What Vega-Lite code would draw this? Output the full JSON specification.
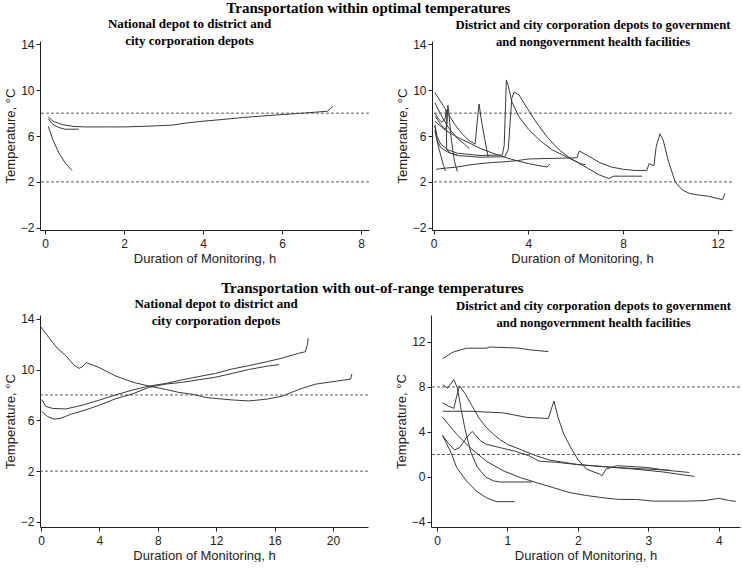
{
  "$schema": "https://vega.github.io/schema/vega-lite/v6.json",
  "padding": {"left": 4, "top": 1, "right": 0, "bottom": 0},
  "background": "white",
  "config": {
    "view": {"stroke": null},
    "axis": {"grid": false, "domainColor": "#222", "tickColor": "#222", "labelColor": "#222", "titleColor": "#222", "labelFont": "Liberation Sans", "titleFont": "Liberation Sans", "labelFontSize": 12, "titleFontSize": 13, "titleFontWeight": "normal", "tickSize": 4, "labelPadding": 2, "titlePadding": 3},
    "axisX": {"labelPadding": 4, "titlePadding": 3},
    "title": {"font": "Liberation Serif", "fontWeight": "bold", "fontSize": 13, "color": "#000", "anchor": "middle", "frame": "group", "lineHeight": 17}
  },
  "datasets": {
    "p1": [
      {"id": "s1", "h": 0.08, "t": 7.65}, {"id": "s1", "h": 0.2, "t": 7.3}, {"id": "s1", "h": 0.43, "t": 7.0}, {"id": "s1", "h": 0.7, "t": 6.85}, {"id": "s1", "h": 1.0, "t": 6.8}, {"id": "s1", "h": 1.5, "t": 6.8}, {"id": "s1", "h": 2.0, "t": 6.8}, {"id": "s1", "h": 2.5, "t": 6.85}, {"id": "s1", "h": 3.2, "t": 6.95}, {"id": "s1", "h": 3.6, "t": 7.15}, {"id": "s1", "h": 4.0, "t": 7.3}, {"id": "s1", "h": 4.5, "t": 7.45}, {"id": "s1", "h": 5.0, "t": 7.62}, {"id": "s1", "h": 5.5, "t": 7.75}, {"id": "s1", "h": 6.0, "t": 7.88}, {"id": "s1", "h": 6.6, "t": 8.02}, {"id": "s1", "h": 7.15, "t": 8.17}, {"id": "s1", "h": 7.28, "t": 8.6},
      {"id": "s2", "h": 0.08, "t": 7.5}, {"id": "s2", "h": 0.2, "t": 7.0}, {"id": "s2", "h": 0.35, "t": 6.75}, {"id": "s2", "h": 0.5, "t": 6.6}, {"id": "s2", "h": 0.85, "t": 6.6},
      {"id": "s3", "h": 0.08, "t": 6.85}, {"id": "s3", "h": 0.2, "t": 5.65}, {"id": "s3", "h": 0.35, "t": 4.5}, {"id": "s3", "h": 0.52, "t": 3.6}, {"id": "s3", "h": 0.68, "t": 3.0}
    ],
    "p2": [
      {"id": "q1", "h": 0.1, "t": 3.1}, {"id": "q1", "h": 0.5, "t": 3.2}, {"id": "q1", "h": 1.0, "t": 3.3}, {"id": "q1", "h": 1.56, "t": 3.5}, {"id": "q1", "h": 2.0, "t": 3.6}, {"id": "q1", "h": 2.5, "t": 3.7}, {"id": "q1", "h": 2.96, "t": 3.75}, {"id": "q1", "h": 3.5, "t": 3.85}, {"id": "q1", "h": 4.0, "t": 4.0}, {"id": "q1", "h": 5.0, "t": 4.05}, {"id": "q1", "h": 6.05, "t": 4.1}, {"id": "q1", "h": 6.15, "t": 4.7}, {"id": "q1", "h": 6.5, "t": 4.3}, {"id": "q1", "h": 7.0, "t": 3.7}, {"id": "q1", "h": 7.5, "t": 3.3}, {"id": "q1", "h": 8.0, "t": 3.1}, {"id": "q1", "h": 8.5, "t": 3.0}, {"id": "q1", "h": 9.0, "t": 3.0}, {"id": "q1", "h": 9.1, "t": 3.6}, {"id": "q1", "h": 9.3, "t": 3.4}, {"id": "q1", "h": 9.4, "t": 5.1}, {"id": "q1", "h": 9.56, "t": 6.2}, {"id": "q1", "h": 9.7, "t": 5.6}, {"id": "q1", "h": 9.9, "t": 3.9}, {"id": "q1", "h": 10.2, "t": 2.0}, {"id": "q1", "h": 10.5, "t": 1.3}, {"id": "q1", "h": 10.8, "t": 1.0}, {"id": "q1", "h": 11.2, "t": 0.85}, {"id": "q1", "h": 11.6, "t": 0.75}, {"id": "q1", "h": 12.0, "t": 0.55}, {"id": "q1", "h": 12.2, "t": 0.45}, {"id": "q1", "h": 12.3, "t": 1.0},
      {"id": "q2", "h": 0.05, "t": 7.0}, {"id": "q2", "h": 0.15, "t": 5.9}, {"id": "q2", "h": 0.3, "t": 5.3}, {"id": "q2", "h": 0.6, "t": 4.8}, {"id": "q2", "h": 1.0, "t": 4.5}, {"id": "q2", "h": 2.0, "t": 4.3}, {"id": "q2", "h": 2.9, "t": 4.35}, {"id": "q2", "h": 2.98, "t": 5.2}, {"id": "q2", "h": 3.07, "t": 10.9}, {"id": "q2", "h": 3.15, "t": 10.4}, {"id": "q2", "h": 3.3, "t": 9.0}, {"id": "q2", "h": 3.6, "t": 7.7}, {"id": "q2", "h": 4.0, "t": 6.6}, {"id": "q2", "h": 4.5, "t": 5.6}, {"id": "q2", "h": 5.0, "t": 4.8}, {"id": "q2", "h": 5.5, "t": 4.3}, {"id": "q2", "h": 6.0, "t": 3.8}, {"id": "q2", "h": 6.5, "t": 3.2}, {"id": "q2", "h": 7.0, "t": 2.6}, {"id": "q2", "h": 7.4, "t": 2.3}, {"id": "q2", "h": 7.6, "t": 2.5}, {"id": "q2", "h": 8.8, "t": 2.5},
      {"id": "q3", "h": 0.05, "t": 6.5}, {"id": "q3", "h": 0.15, "t": 5.6}, {"id": "q3", "h": 0.3, "t": 5.0}, {"id": "q3", "h": 0.6, "t": 4.6}, {"id": "q3", "h": 1.0, "t": 4.3}, {"id": "q3", "h": 2.0, "t": 4.15}, {"id": "q3", "h": 3.0, "t": 4.2}, {"id": "q3", "h": 3.15, "t": 4.8}, {"id": "q3", "h": 3.3, "t": 9.3}, {"id": "q3", "h": 3.4, "t": 9.85}, {"id": "q3", "h": 3.6, "t": 9.6}, {"id": "q3", "h": 3.9, "t": 8.6}, {"id": "q3", "h": 4.3, "t": 7.3}, {"id": "q3", "h": 4.8, "t": 5.9}, {"id": "q3", "h": 5.3, "t": 4.8}, {"id": "q3", "h": 5.8, "t": 4.0}, {"id": "q3", "h": 6.2, "t": 3.6}, {"id": "q3", "h": 6.4, "t": 3.5},
      {"id": "q4", "h": 0.05, "t": 9.8}, {"id": "q4", "h": 0.3, "t": 9.0}, {"id": "q4", "h": 0.6, "t": 8.0}, {"id": "q4", "h": 0.9, "t": 7.0}, {"id": "q4", "h": 1.2, "t": 6.2}, {"id": "q4", "h": 1.5, "t": 5.6}, {"id": "q4", "h": 1.75, "t": 5.3}, {"id": "q4", "h": 1.85, "t": 7.5}, {"id": "q4", "h": 1.92, "t": 8.8}, {"id": "q4", "h": 2.0, "t": 7.6}, {"id": "q4", "h": 2.15, "t": 5.8}, {"id": "q4", "h": 2.3, "t": 4.2},
      {"id": "q5", "h": 0.05, "t": 8.9}, {"id": "q5", "h": 0.3, "t": 7.9}, {"id": "q5", "h": 0.6, "t": 6.8}, {"id": "q5", "h": 1.0, "t": 5.8}, {"id": "q5", "h": 1.3, "t": 5.3}, {"id": "q5", "h": 1.5, "t": 4.9},
      {"id": "q6", "h": 0.05, "t": 7.3}, {"id": "q6", "h": 0.5, "t": 6.5}, {"id": "q6", "h": 1.0, "t": 5.9}, {"id": "q6", "h": 1.5, "t": 5.4}, {"id": "q6", "h": 2.0, "t": 4.9}, {"id": "q6", "h": 2.5, "t": 4.5}, {"id": "q6", "h": 3.0, "t": 4.15}, {"id": "q6", "h": 3.5, "t": 3.85}, {"id": "q6", "h": 4.0, "t": 3.6}, {"id": "q6", "h": 4.5, "t": 3.4}, {"id": "q6", "h": 4.8, "t": 3.3}, {"id": "q6", "h": 4.9, "t": 3.55},
      {"id": "q7", "h": 0.05, "t": 6.9}, {"id": "q7", "h": 0.15, "t": 5.5}, {"id": "q7", "h": 0.3, "t": 4.3}, {"id": "q7", "h": 0.42, "t": 3.4}, {"id": "q7", "h": 0.5, "t": 2.95},
      {"id": "q8", "h": 0.08, "t": 7.7}, {"id": "q8", "h": 0.3, "t": 7.0}, {"id": "q8", "h": 0.5, "t": 6.6}, {"id": "q8", "h": 0.56, "t": 6.9}, {"id": "q8", "h": 0.6, "t": 8.7}, {"id": "q8", "h": 0.64, "t": 8.0}, {"id": "q8", "h": 0.75, "t": 5.6}, {"id": "q8", "h": 0.88, "t": 3.8}, {"id": "q8", "h": 1.0, "t": 2.9},
      {"id": "q9", "h": 0.05, "t": 8.0}, {"id": "q9", "h": 0.2, "t": 7.5}, {"id": "q9", "h": 0.35, "t": 7.2}, {"id": "q9", "h": 0.5, "t": 7.6}, {"id": "q9", "h": 0.53, "t": 8.3}, {"id": "q9", "h": 0.55, "t": 4.8}, {"id": "q9", "h": 0.7, "t": 4.5}, {"id": "q9", "h": 1.0, "t": 4.35}
    ],
    "p3": [
      {"id": "r1", "h": 0.0, "t": 13.35}, {"id": "r1", "h": 0.55, "t": 12.5}, {"id": "r1", "h": 1.1, "t": 11.7}, {"id": "r1", "h": 1.7, "t": 11.1}, {"id": "r1", "h": 2.26, "t": 10.35}, {"id": "r1", "h": 2.6, "t": 10.1}, {"id": "r1", "h": 2.8, "t": 10.2}, {"id": "r1", "h": 3.1, "t": 10.55}, {"id": "r1", "h": 4.0, "t": 10.15}, {"id": "r1", "h": 5.1, "t": 9.5}, {"id": "r1", "h": 6.3, "t": 9.0}, {"id": "r1", "h": 7.4, "t": 8.7}, {"id": "r1", "h": 8.5, "t": 8.45}, {"id": "r1", "h": 9.45, "t": 8.2}, {"id": "r1", "h": 10.4, "t": 8.05}, {"id": "r1", "h": 11.3, "t": 7.8}, {"id": "r1", "h": 12.2, "t": 7.7}, {"id": "r1", "h": 13.2, "t": 7.6}, {"id": "r1", "h": 14.2, "t": 7.53}, {"id": "r1", "h": 15.4, "t": 7.66}, {"id": "r1", "h": 16.5, "t": 7.9}, {"id": "r1", "h": 17.7, "t": 8.45}, {"id": "r1", "h": 18.8, "t": 8.85}, {"id": "r1", "h": 20.0, "t": 9.05}, {"id": "r1", "h": 21.2, "t": 9.25}, {"id": "r1", "h": 21.3, "t": 9.65},
      {"id": "r2", "h": 0.05, "t": 7.64}, {"id": "r2", "h": 0.33, "t": 7.1}, {"id": "r2", "h": 0.8, "t": 6.94}, {"id": "r2", "h": 1.7, "t": 6.9}, {"id": "r2", "h": 2.85, "t": 7.2}, {"id": "r2", "h": 4.0, "t": 7.6}, {"id": "r2", "h": 5.1, "t": 8.0}, {"id": "r2", "h": 6.3, "t": 8.4}, {"id": "r2", "h": 7.4, "t": 8.7}, {"id": "r2", "h": 8.5, "t": 8.9}, {"id": "r2", "h": 9.7, "t": 9.2}, {"id": "r2", "h": 10.8, "t": 9.45}, {"id": "r2", "h": 11.96, "t": 9.7}, {"id": "r2", "h": 13.1, "t": 10.05}, {"id": "r2", "h": 14.2, "t": 10.3}, {"id": "r2", "h": 15.4, "t": 10.6}, {"id": "r2", "h": 16.5, "t": 10.9}, {"id": "r2", "h": 17.7, "t": 11.3}, {"id": "r2", "h": 18.1, "t": 11.4}, {"id": "r2", "h": 18.25, "t": 11.95}, {"id": "r2", "h": 18.3, "t": 12.5},
      {"id": "r3", "h": 0.05, "t": 6.7}, {"id": "r3", "h": 0.45, "t": 6.3}, {"id": "r3", "h": 0.9, "t": 6.1}, {"id": "r3", "h": 1.3, "t": 6.15}, {"id": "r3", "h": 2.1, "t": 6.5}, {"id": "r3", "h": 3.0, "t": 6.8}, {"id": "r3", "h": 4.0, "t": 7.2}, {"id": "r3", "h": 5.1, "t": 7.7}, {"id": "r3", "h": 6.3, "t": 8.1}, {"id": "r3", "h": 7.4, "t": 8.6}, {"id": "r3", "h": 8.5, "t": 8.85}, {"id": "r3", "h": 9.7, "t": 9.0}, {"id": "r3", "h": 10.8, "t": 9.2}, {"id": "r3", "h": 11.96, "t": 9.4}, {"id": "r3", "h": 13.1, "t": 9.7}, {"id": "r3", "h": 14.2, "t": 10.0}, {"id": "r3", "h": 15.4, "t": 10.25}, {"id": "r3", "h": 16.3, "t": 10.4}
    ],
    "p4": [
      {"id": "A", "h": 0.08, "t": 10.52}, {"id": "A", "h": 0.23, "t": 11.1}, {"id": "A", "h": 0.42, "t": 11.45}, {"id": "A", "h": 0.7, "t": 11.45}, {"id": "A", "h": 0.75, "t": 11.55}, {"id": "A", "h": 1.0, "t": 11.5}, {"id": "A", "h": 1.17, "t": 11.45}, {"id": "A", "h": 1.32, "t": 11.3}, {"id": "A", "h": 1.58, "t": 11.15},
      {"id": "B", "h": 0.08, "t": 8.2}, {"id": "B", "h": 0.15, "t": 7.9}, {"id": "B", "h": 0.24, "t": 8.65}, {"id": "B", "h": 0.29, "t": 7.9}, {"id": "B", "h": 0.34, "t": 6.1}, {"id": "B", "h": 0.4, "t": 4.2}, {"id": "B", "h": 0.48, "t": 2.2}, {"id": "B", "h": 0.57, "t": 0.9}, {"id": "B", "h": 0.69, "t": 0.0}, {"id": "B", "h": 0.8, "t": -0.35}, {"id": "B", "h": 0.9, "t": -0.45}, {"id": "B", "h": 1.35, "t": -0.45},
      {"id": "C", "h": 0.08, "t": 5.84}, {"id": "C", "h": 0.47, "t": 5.84}, {"id": "C", "h": 0.94, "t": 5.7}, {"id": "C", "h": 1.27, "t": 5.3}, {"id": "C", "h": 1.58, "t": 5.2}, {"id": "C", "h": 1.66, "t": 6.75}, {"id": "C", "h": 1.72, "t": 5.25}, {"id": "C", "h": 1.8, "t": 3.8}, {"id": "C", "h": 1.9, "t": 2.6}, {"id": "C", "h": 2.0, "t": 1.55}, {"id": "C", "h": 2.12, "t": 0.7}, {"id": "C", "h": 2.31, "t": 0.25}, {"id": "C", "h": 2.34, "t": 0.1}, {"id": "C", "h": 2.4, "t": 0.7}, {"id": "C", "h": 2.55, "t": 1.0}, {"id": "C", "h": 2.7, "t": 0.95}, {"id": "C", "h": 2.97, "t": 0.85}, {"id": "C", "h": 3.25, "t": 0.6}, {"id": "C", "h": 3.58, "t": 0.4},
      {"id": "D", "h": 0.08, "t": 5.3}, {"id": "D", "h": 0.28, "t": 3.8}, {"id": "D", "h": 0.47, "t": 2.6}, {"id": "D", "h": 0.7, "t": 1.4}, {"id": "D", "h": 0.94, "t": 0.55}, {"id": "D", "h": 1.18, "t": -0.05}, {"id": "D", "h": 1.41, "t": -0.5}, {"id": "D", "h": 1.65, "t": -0.95}, {"id": "D", "h": 1.89, "t": -1.4}, {"id": "D", "h": 2.12, "t": -1.65}, {"id": "D", "h": 2.36, "t": -1.85}, {"id": "D", "h": 2.59, "t": -2.0}, {"id": "D", "h": 2.83, "t": -2.0}, {"id": "D", "h": 3.07, "t": -2.15}, {"id": "D", "h": 3.54, "t": -2.15}, {"id": "D", "h": 3.8, "t": -2.1}, {"id": "D", "h": 4.0, "t": -1.9}, {"id": "D", "h": 4.15, "t": -2.1}, {"id": "D", "h": 4.24, "t": -2.17},
      {"id": "E", "h": 0.08, "t": 3.67}, {"id": "E", "h": 0.19, "t": 2.3}, {"id": "E", "h": 0.28, "t": 0.82}, {"id": "E", "h": 0.42, "t": -0.37}, {"id": "E", "h": 0.56, "t": -1.26}, {"id": "E", "h": 0.7, "t": -1.85}, {"id": "E", "h": 0.85, "t": -2.2}, {"id": "E", "h": 1.1, "t": -2.2},
      {"id": "F", "h": 0.08, "t": 6.6}, {"id": "F", "h": 0.16, "t": 6.3}, {"id": "F", "h": 0.24, "t": 6.1}, {"id": "F", "h": 0.28, "t": 7.2}, {"id": "F", "h": 0.32, "t": 8.1}, {"id": "F", "h": 0.4, "t": 7.4}, {"id": "F", "h": 0.5, "t": 6.3}, {"id": "F", "h": 0.6, "t": 5.2}, {"id": "F", "h": 0.7, "t": 4.4}, {"id": "F", "h": 0.8, "t": 3.8}, {"id": "F", "h": 0.9, "t": 3.3}, {"id": "F", "h": 1.0, "t": 2.9}, {"id": "F", "h": 1.2, "t": 2.4}, {"id": "F", "h": 1.4, "t": 1.9}, {"id": "F", "h": 1.6, "t": 1.5}, {"id": "F", "h": 1.8, "t": 1.3}, {"id": "F", "h": 2.0, "t": 1.1}, {"id": "F", "h": 2.4, "t": 0.9}, {"id": "F", "h": 2.8, "t": 0.7}, {"id": "F", "h": 3.2, "t": 0.45}, {"id": "F", "h": 3.65, "t": 0.05},
      {"id": "G", "h": 0.08, "t": 3.7}, {"id": "G", "h": 0.16, "t": 3.0}, {"id": "G", "h": 0.25, "t": 2.4}, {"id": "G", "h": 0.32, "t": 2.6}, {"id": "G", "h": 0.42, "t": 3.5}, {"id": "G", "h": 0.5, "t": 4.05}, {"id": "G", "h": 0.55, "t": 3.7}, {"id": "G", "h": 0.62, "t": 3.2}, {"id": "G", "h": 0.7, "t": 2.9}, {"id": "G", "h": 0.9, "t": 2.6}, {"id": "G", "h": 1.1, "t": 2.3}, {"id": "G", "h": 1.3, "t": 1.9}, {"id": "G", "h": 1.45, "t": 1.4}, {"id": "G", "h": 1.7, "t": 1.3}, {"id": "G", "h": 2.0, "t": 1.1}, {"id": "G", "h": 2.5, "t": 0.85}, {"id": "G", "h": 3.0, "t": 0.7}, {"id": "G", "h": 3.3, "t": 0.6}
    ]
  },
  "spacing": 15,
  "vconcat": [
    {
      "title": {"text": "Transportation within optimal temperatures", "fontSize": 15, "offset": 2, "frame": "bounds"},
      "spacing": 26,
      "hconcat": [
        {
          "width": 329, "height": 189,
          "title": {"text": ["National depot to district and", "city corporation depots"], "dx": -15, "offset": -10},
          "layer": [
            {"data": {"values": [{"t": 8}, {"t": 2}]}, "mark": {"type": "rule", "strokeDash": [3, 2], "strokeWidth": 0.8, "color": "#333"},
             "encoding": {"y": {"field": "t", "type": "quantitative", "scale": {"domain": [-2.2, 14.3], "nice": false, "zero": false}, "axis": {"values": [-2, 2, 6, 10, 14], "title": "Temperature, °C"}}}},
            {"data": {"name": "p1"}, "mark": {"type": "line", "strokeWidth": 1, "color": "#3a3a3a"},
             "encoding": {
               "x": {"field": "h", "type": "quantitative", "scale": {"domain": [-0.13, 8.2], "nice": false, "zero": false}, "axis": {"values": [0, 2, 4, 6, 8], "title": "Duration of Monitoring, h"}},
               "y": {"field": "t", "type": "quantitative", "scale": {"domain": [-2.2, 14.3], "nice": false, "zero": false}, "axis": {"values": [-2, 2, 6, 10, 14], "title": "Temperature, °C"}},
               "detail": {"field": "id"}}}
          ]
        },
        {
          "width": 300, "height": 189,
          "title": {"text": ["District and city corporation depots to government", "and nongovernment health facilities"], "dx": 11, "offset": -10, "fontSize": 12.7},
          "layer": [
            {"data": {"values": [{"t": 8}, {"t": 2}]}, "mark": {"type": "rule", "strokeDash": [3, 2], "strokeWidth": 0.8, "color": "#333"},
             "encoding": {"y": {"field": "t", "type": "quantitative", "scale": {"domain": [-2.2, 14.3], "nice": false, "zero": false}, "axis": {"values": [-2, 2, 6, 10, 14], "title": "Temperature, °C"}}}},
            {"data": {"name": "p2"}, "mark": {"type": "line", "strokeWidth": 1, "color": "#3a3a3a"},
             "encoding": {
               "x": {"field": "h", "type": "quantitative", "scale": {"domain": [-0.07, 12.6], "nice": false, "zero": false}, "axis": {"values": [0, 4, 8, 12], "title": "Duration of Monitoring, h"}},
               "y": {"field": "t", "type": "quantitative", "scale": {"domain": [-2.2, 14.3], "nice": false, "zero": false}, "axis": {"values": [-2, 2, 6, 10, 14], "title": "Temperature, °C"}},
               "detail": {"field": "id"}}}
          ]
        }
      ]
    },
    {
      "title": {"text": "Transportation with out-of-range temperatures", "fontSize": 15, "offset": 2, "frame": "bounds"},
      "spacing": 26,
      "hconcat": [
        {
          "width": 328, "height": 212,
          "title": {"text": ["National depot to district and", "city corporation depots"], "dx": 12, "offset": -15},
          "layer": [
            {"data": {"values": [{"t": 8}, {"t": 2}]}, "mark": {"type": "rule", "strokeDash": [3, 2], "strokeWidth": 0.8, "color": "#333"},
             "encoding": {"y": {"field": "t", "type": "quantitative", "scale": {"domain": [-2.4, 14.3], "nice": false, "zero": false}, "axis": {"values": [-2, 2, 6, 10, 14], "title": "Temperature, °C"}}}},
            {"data": {"name": "p3"}, "mark": {"type": "line", "strokeWidth": 1, "color": "#3a3a3a"},
             "encoding": {
               "x": {"field": "h", "type": "quantitative", "scale": {"domain": [-0.07, 22.4], "nice": false, "zero": false}, "axis": {"values": [0, 4, 8, 12, 16, 20], "title": "Duration of Monitoring, h"}},
               "y": {"field": "t", "type": "quantitative", "scale": {"domain": [-2.4, 14.3], "nice": false, "zero": false}, "axis": {"values": [-2, 2, 6, 10, 14], "title": "Temperature, °C"}},
               "detail": {"field": "id"}}}
          ]
        },
        {
          "width": 309, "height": 212,
          "title": {"text": ["District and city corporation depots to government", "and nongovernment health facilities"], "dx": 8, "offset": -15, "fontSize": 12.7},
          "layer": [
            {"data": {"values": [{"t": 8}, {"t": 2}]}, "mark": {"type": "rule", "strokeDash": [3, 2], "strokeWidth": 0.8, "color": "#333"},
             "encoding": {"y": {"field": "t", "type": "quantitative", "scale": {"domain": [-4.45, 14.4], "nice": false, "zero": false}, "axis": {"values": [-4, 0, 4, 8, 12], "title": "Temperature, °C"}}}},
            {"data": {"name": "p4"}, "mark": {"type": "line", "strokeWidth": 1, "color": "#3a3a3a"},
             "encoding": {
               "x": {"field": "h", "type": "quantitative", "scale": {"domain": [-0.085, 4.3], "nice": false, "zero": false}, "axis": {"values": [0, 1, 2, 3, 4], "title": "Duration of Monitoring, h"}},
               "y": {"field": "t", "type": "quantitative", "scale": {"domain": [-4.45, 14.4], "nice": false, "zero": false}, "axis": {"values": [-4, 0, 4, 8, 12], "title": "Temperature, °C"}},
               "detail": {"field": "id"}}}
          ]
        }
      ]
    }
  ]
}
